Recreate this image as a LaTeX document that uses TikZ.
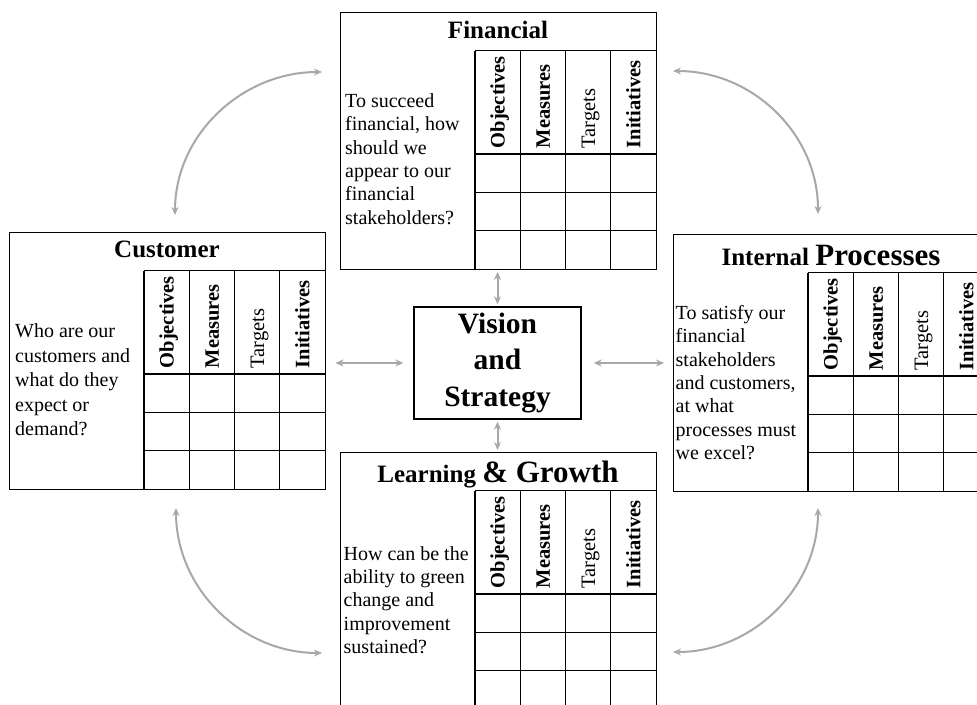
\documentclass[tikz,border=0pt]{standalone}
\usepackage{fontspec}
\setmainfont{Liberation Serif}
\usetikzlibrary{arrows.meta,calc}
\definecolor{linkgray}{RGB}{168,168,168}
\tikzset{
  frame/.style={draw=black, line width=1.4pt},
  cardbox/.style={draw=black, line width=1.4pt, rectangle, anchor=north west,
    minimum width=316pt, minimum height=256.5pt, inner sep=0pt},
  colhead/.style={rotate=90, anchor=base west, inner sep=0pt,
    font=\fontsize{20.5}{24}\selectfont},
  colheadbold/.style={colhead, font=\bfseries\fontsize{20.5}{24}\selectfont},
  cardtitle/.style={anchor=base, inner sep=0pt, font=\bfseries\fontsize{25}{30}\selectfont},
  question/.style={anchor=west, align=left, inner sep=0pt,
    font=\fontsize{20}{23.3}\selectfont},
  visionbox/.style={draw=black, line width=1.4pt, minimum width=167pt,
    minimum height=112pt, align=center, inner sep=0pt,
    font=\bfseries\fontsize{29.5}{36.5}\selectfont},
  link/.style={draw=linkgray, line width=2pt,
    {Stealth[length=8pt,width=7pt]}-{Stealth[length=8pt,width=7pt]}},
}
% One scorecard perspective: frame, 4x4 grid and rotated column headings.
% #1 name, #2 left edge, #3 top edge
\newcommand\bsccard[3]{%
  \node[cardbox] (#1) at (#2,#3) {};
  \foreach \i in {0,...,3}
    \draw[frame] ({#2+135+\i*45.25},{#3+38.5}) -- ({#2+135+\i*45.25},{#3+256.5});
  \foreach \d in {38.5,142,180.3,218.6}
    \draw[frame] ({#2+135},{#3+\d}) -- ({#2+316},{#3+\d});
  \node[colheadbold] (#1-obj) at ({#2+135+0.5*45.25+7},{#3+136.5}) {Objectives};
  \node[colheadbold] (#1-mea) at ({#2+135+1.5*45.25+7},{#3+136.5}) {Measures};
  \node[colhead]     (#1-tar) at ({#2+135+2.5*45.25+7},{#3+136.5}) {Targets};
  \node[colheadbold] (#1-ini) at ({#2+135+3.5*45.25+7},{#3+136.5}) {Initiatives};
}

\begin{document}
\begin{tikzpicture}[x=1pt,y=-1pt]
  \useasboundingbox (0,0) rectangle (977,704);
  \clip (0,0) rectangle (977,704);
  \fill[white] (0,0) rectangle (977,704);

  % the four perspectives
  \bsccard{fin}{340}{12}
  \bsccard{cust}{9}{232}
  \bsccard{int}{673}{234}
  \bsccard{lg}{340}{452}

  \node[cardtitle] (fin-title) at (498,38) {Financial};
  \node[cardtitle] (cust-title) at (167,257) {Customer};
  \node[cardtitle] (int-title) at (831,265)
    {Internal {\fontsize{31}{36}\selectfont Processes}};
  \node[cardtitle] (lg-title) at (498,482.5)
    {Learning {\fontsize{31}{36}\selectfont\& Growth}};

  \node[question] (fin-q) at (345,159)
    {To succeed\\financial, how\\should we\\appear to our\\financial\\stakeholders?};
  \node[question, font=\fontsize{20}{24.5}\selectfont] (cust-q) at (15,380)
    {Who are our\\customers and\\what do they\\expect or\\demand?};
  \node[question] (int-q) at (675.5,382.5)
    {To satisfy our\\financial\\stakeholders\\and customers,\\at what\\processes must\\we excel?};
  \node[question] (lg-q) at (343.5,600)
    {How can be the\\ability to green\\change and\\improvement\\sustained?};

  % centre
  \node[visionbox] (vis) at (497.5,363) {Vision\\and\\Strategy};

  % straight links to the centre
  \draw[link, shorten <=2pt, shorten >=2pt] (vis.north) -- (vis.north |- fin.south);
  \draw[link, shorten <=2pt, shorten >=2pt] (vis.south) -- (vis.south |- lg.north);
  \draw[link, shorten <=10pt, shorten >=9pt] (vis.west) -- (vis.west -| cust.east);
  \draw[link, shorten <=12pt, shorten >=9pt] (vis.east) -- (vis.east -| int.west);

  % curved links around the perspectives (angles are page directions)
  \coordinate (tl-a) at (175,215);
  \coordinate (tl-b) at (322,72);
  \coordinate (tr-a) at (673,71);
  \coordinate (tr-b) at (818,214);
  \coordinate (br-a) at (818,508);
  \coordinate (br-b) at (673,652);
  \coordinate (bl-a) at (176,508);
  \coordinate (bl-b) at (322,653);
  \draw[link] (tl-a) to[out=90,in=180] (tl-b);
  \draw[link] (tr-a) to[out=0,in=90] (tr-b);
  \draw[link] (br-a) to[out=270,in=0] (br-b);
  \draw[link] (bl-a) to[out=270,in=180] (bl-b);
\end{tikzpicture}
\end{document}
